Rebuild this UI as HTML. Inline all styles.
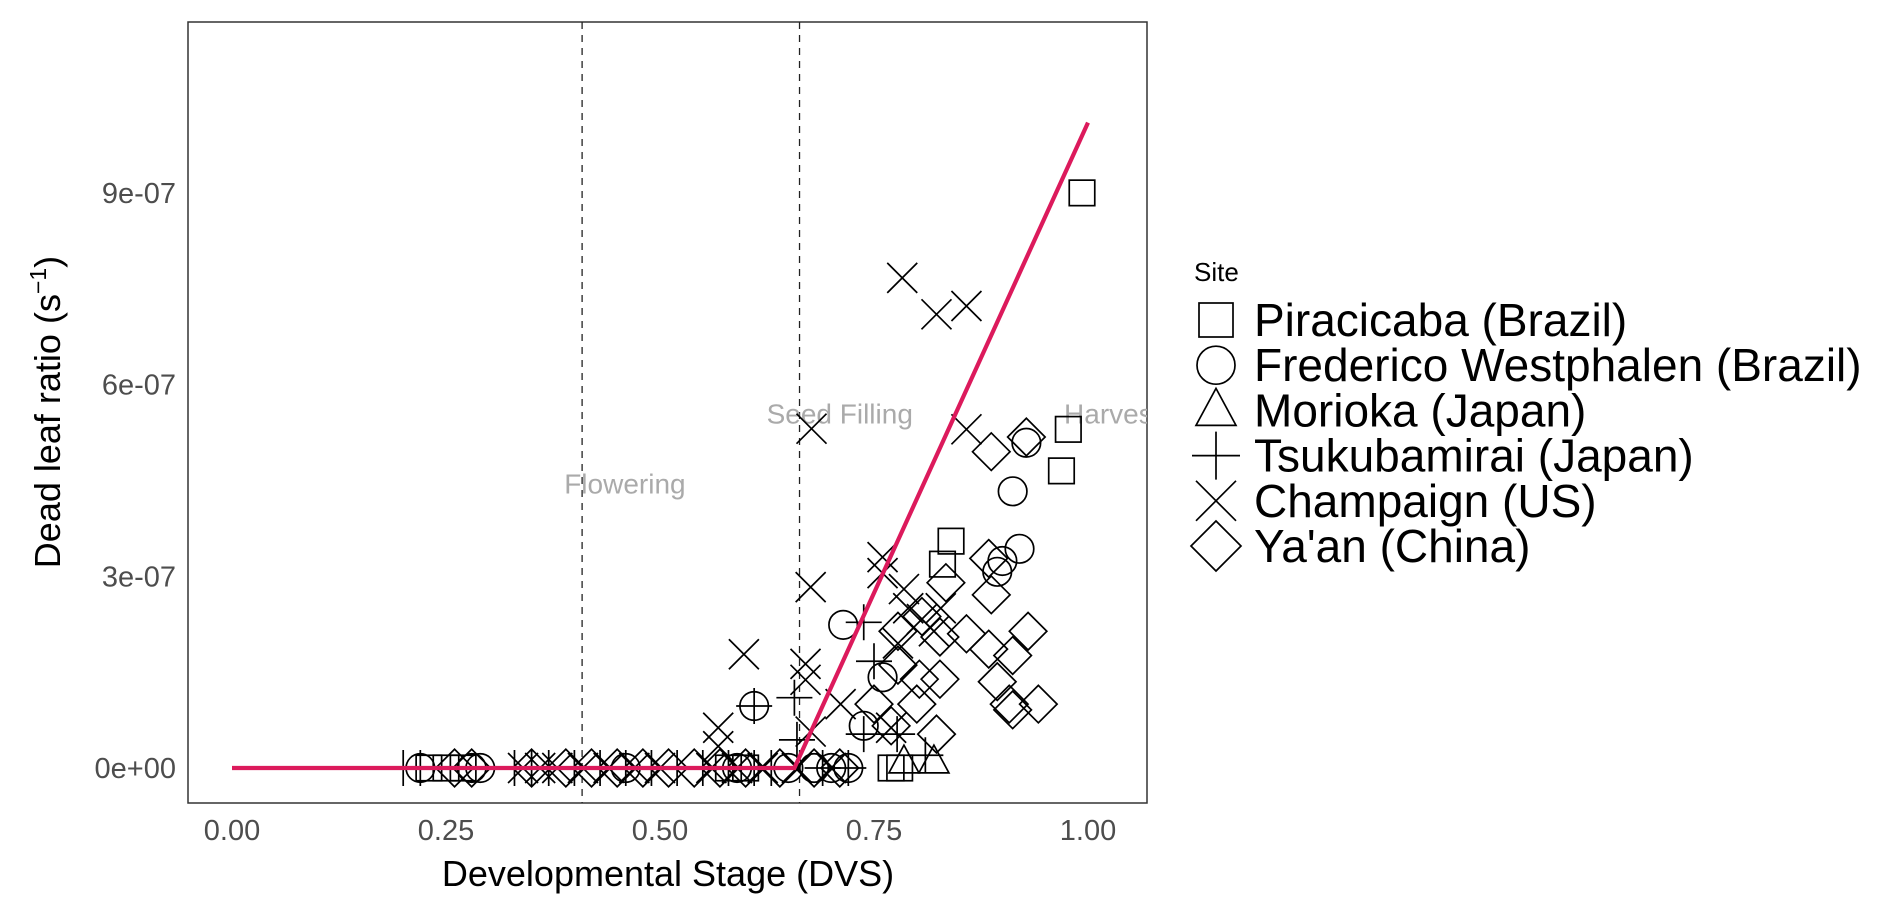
<!DOCTYPE html>
<html><head><meta charset="utf-8"><style>
html,body{margin:0;padding:0;background:#fff;}
svg{display:block;font-family:"Liberation Sans",sans-serif;}
</style></head><body>
<svg id="chart" width="1892" height="907">
<rect x="188" y="22" width="959" height="781" fill="#fff" stroke="#333" stroke-width="1.5"/>
<g id="layer"></g>
</svg>
<script>
// Data (DVS, dead leaf ratio in units of 1e-7 s^-1)
const xTicks = [0, 0.25, 0.5, 0.75, 1.0];
const xTickLabels = ["0.00","0.25","0.50","0.75","1.00"];
const yTicks = [0, 3, 6, 9];
const yTickLabels = ["0e+00","3e-07","6e-07","9e-07"];
const stageLines = [0.409, 0.663];
const stageLabels = [["Flowering",0.459,4.45],["Seed Filling",0.71,5.55],["Harvest",0.972,5.55]];
const fitX = [0, 0.657, 1.0];
const fitY = [0, 0, 10.1];
const sites = ["Piracicaba (Brazil)","Frederico Westphalen (Brazil)","Morioka (Japan)","Tsukubamirai (Japan)","Champaign (US)","Ya'an (China)"];
const squareX = [0.993,0.977,0.969,0.84,0.83,0.78,0.77,0.23,0.25,0.27,0.58,0.60];
const squareY = [9.0,5.3,4.65,3.55,3.19,0,0,0,0,0,0,0];
const circleX = [0.928,0.912,0.92,0.90,0.894,0.714,0.76,0.738,0.61,0.22,0.28,0.29,0.46,0.65,0.68,0.70,0.72,0.59];
const circleY = [5.09,4.33,3.43,3.24,3.07,2.24,1.42,0.66,0.97,0,0,0,0,0,0,0,0,0];
const triX = [0.82,0.785];
const triY = [0.1,0.1];
const plusX = [0.738,0.657,0.61,0.66,0.738,0.777,0.81,0.75,0.2,0.22,0.33,0.35,0.37,0.40,0.43,0.46,0.49,0.52,0.55,0.58,0.61,0.63,0.69,0.72];
const plusY = [2.28,1.1,0.97,0.44,0.53,0.53,0.2,1.67,0,0,0,0,0,0,0,0,0,0,0,0,0,0,0,0];
const crossX = [0.783,0.823,0.858,0.858,0.677,0.676,0.76,0.598,0.67,0.67,0.711,0.568,0.568,0.785,0.79,0.806,0.82,0.828,0.778,0.77,0.676,0.76,0.34,0.36,0.38,0.41,0.44,0.47,0.50,0.56,0.59,0.62,0.66,0.70];
const crossY = [7.67,7.1,7.23,5.3,5.31,2.83,3.3,1.78,1.63,1.38,1.0,0.63,0.34,2.8,2.5,2.33,2.14,2.5,1.95,0.63,0.57,3.05,0,0,0,0,0,0,0,0,0,0,0,0];
const diamondX = [0.928,0.887,0.884,0.887,0.858,0.93,0.884,0.912,0.894,0.908,0.942,0.912,0.827,0.806,0.778,0.778,0.803,0.827,0.80,0.75,0.77,0.823,0.834,0.26,0.28,0.35,0.39,0.42,0.45,0.48,0.51,0.54,0.57,0.60,0.64,0.68,0.71];
const diamondY = [5.18,4.95,3.28,2.71,2.1,2.14,1.86,1.76,1.35,1.0,1.0,0.91,2.05,2.37,2.14,1.61,1.39,1.39,1.0,1.0,0.66,0.53,2.9,0,0,0,0,0,0,0,0,0,0,0,0,0,0];

const NS="http://www.w3.org/2000/svg";
const L=document.getElementById('layer');
const X0=232,X1=1088,Y0=768,YS=63.9;
function sx(v){return X0+(X1-X0)*v;}
function sy(v){return Y0-YS*v;}
function mk(tag,attrs,parent){const e=document.createElementNS(NS,tag);for(const k in attrs)e.setAttribute(k,attrs[k]);(parent||L).appendChild(e);return e;}

xTicks.forEach((t,i)=>{
  const tx=mk('text',{x:sx(t),y:840,'text-anchor':'middle','font-size':29,fill:'#4d4d4d'});
  tx.textContent=xTickLabels[i];
  
  
});
yTicks.forEach((t,i)=>{
  const tx=mk('text',{x:176,y:sy(t)+10,'text-anchor':'end','font-size':29,fill:'#4d4d4d'});
  tx.textContent=yTickLabels[i];
  
  
});
stageLines.forEach(v=>{
  const l=mk('line',{x1:sx(v),x2:sx(v),y1:22,y2:803,stroke:'#222','stroke-width':1.3,'stroke-dasharray':'7,6'});
  
  
});
const clip=mk('clipPath',{id:'pc'});mk('rect',{x:188,y:22,width:959,height:781},clip);
const pg=mk('g',{'clip-path':'url(#pc)'});
stageLabels.forEach(s=>{
  const t=mk('text',{x:sx(s[1]),y:sy(s[2])+10,'text-anchor':s[0]==='Harvest'?'start':'middle','font-size':28,fill:'#aaa'},pg);
  t.textContent=s[0];
  
  
});
const R=15;
function shape(type,cx,cy,r,parent,name){
  let e;const st={fill:'none',stroke:'#000','stroke-width':1.7};
  if(type===0)e=mk('rect',Object.assign({x:cx-r*0.85,y:cy-r*0.85,width:r*1.7,height:r*1.7},st),parent);
  else if(type===1)e=mk('circle',Object.assign({cx:cx,cy:cy,r:r*0.95},st),parent);
  else if(type===2)e=mk('path',Object.assign({d:`M${cx},${cy-r*1.1}L${cx+r},${cy+r*0.75}L${cx-r},${cy+r*0.75}Z`},st),parent);
  else if(type===3)e=mk('path',Object.assign({d:`M${cx-r*1.2},${cy}H${cx+r*1.2}M${cx},${cy-r*1.2}V${cy+r*1.2}`},st),parent);
  else if(type===4)e=mk('path',Object.assign({d:`M${cx-r},${cy-r}L${cx+r},${cy+r}M${cx+r},${cy-r}L${cx-r},${cy+r}`},st),parent);
  else e=mk('path',Object.assign({d:`M${cx},${cy-r*1.25}L${cx+r*1.25},${cy}L${cx},${cy+r*1.25}L${cx-r*1.25},${cy}Z`},st),parent);
  
  
  return e;
}
const sets=[[squareX,squareY],[circleX,circleY],[triX,triY],[plusX,plusY],[crossX,crossY],[diamondX,diamondY]];
const names=['point-piracicaba','point-frederico-westphalen','point-morioka','point-tsukubamirai','point-champaign','point-yaan'];
sets.forEach((s,k)=>{s[0].forEach((x,i)=>shape(k,sx(x),sy(s[1][i]),R,pg,names[k]));});
const fl=mk('polyline',{points:fitX.map((x,i)=>sx(x)+','+sy(fitY[i])).join(' '),fill:'none',stroke:'#dc1a5c','stroke-width':4.2},pg);


const xt=mk('text',{x:668,y:886,'text-anchor':'middle','font-size':36,fill:'#000'});
xt.textContent='Developmental Stage (DVS)';


const yt=mk('text',{x:0,y:0,'text-anchor':'middle','font-size':36,fill:'#000',transform:'translate(60,412) rotate(-90)'});
yt.innerHTML='Dead leaf ratio (s<tspan dy="-14" font-size="23">−1</tspan><tspan dy="14">)</tspan>';


const lt=mk('text',{x:1194,y:281,'font-size':26,fill:'#000'});
lt.textContent='Site';


sites.forEach((s,i)=>{
  const cy=320+i*45.2;
  shape(i,1216,cy,20,L,'legend-key');
  const t=mk('text',{x:1254,y:cy+16,'font-size':46,fill:'#000'});
  t.textContent=s;
  
  
});
</script>
</body></html>
